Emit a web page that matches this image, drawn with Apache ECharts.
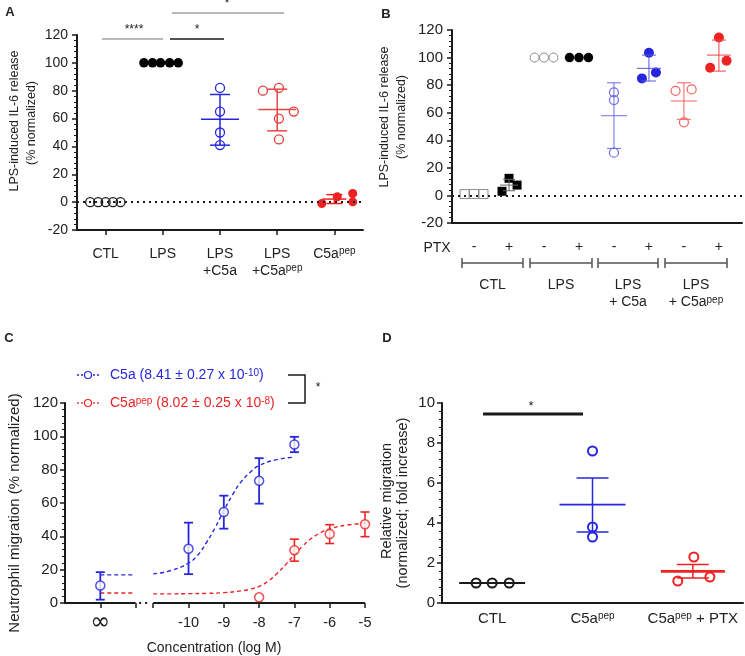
<!DOCTYPE html>
<html><head><meta charset="utf-8">
<script src="https://cdn.jsdelivr.net/npm/echarts@6/dist/echarts.min.js"></script>
<style>html,body{margin:0;padding:0;background:#fff}#c{width:745px;height:656px}</style>
</head><body><div id="c"></div>
<script>
// ================= DATA =================
// ---- Panel A : LPS-induced IL-6 release ----
const aCategories = ['CTL', 'LPS', 'LPS\n+C5a', 'LPS\n+C5a^pep', 'C5a^pep'];
const aCTL = [0, 0, 0, 0, 0];
const aLPS = [100, 100, 100, 100, 100];
const aLPS_C5a = [82, 65, 50, 41];
const aLPS_C5apep = [80, 82, 65, 60, 45];
const aC5apep = [-1, 3.8, 6.2, 0.2];
const aMean = [null, null, 59.6, 66.5, 2.2];
const aLow = [null, null, 40.9, 51.2, -1.0];
const aHigh = [null, null, 77.3, 81.1, 5.4];
const aJitCTL = [-0.27, -0.13, 0, 0.13, 0.26];
const aJitLPS = [-0.33, -0.18, -0.04, 0.12, 0.27];
const aJitLPS_C5a = [0, 0, 0, 0];
const aJitLPS_C5apep = [-0.25, 0.03, 0.29, 0.03, 0.03];
const aJitC5apep = [-0.22, 0.05, 0.32, 0.32];
const aSig = ['****', '*', '*'];

// ---- Panel B : with / without PTX ----
const bGroups = ['CTL', 'LPS', 'LPS\n+ C5a', 'LPS\n+ C5a^pep'];
const bPTX = ['-', '+', '-', '+', '-', '+', '-', '+'];
const bCTLminus = [1, 1, 1];
const bCTLplus = [3.0, 12.4, 7.5];
const bLPSminus = [100, 100, 100];
const bLPSplus = [100, 100, 100];
const bC5aMinus = [74.8, 69.2, 31];
const bC5aPlus = [84.9, 103.5, 89.2];
const bPepMinus = [75.9, 76.9, 53];
const bPepPlus = [92.6, 114.6, 97.7];
const bMean = [null, 7.5, null, null, 57.8, 92.2, 68.5, 101.8];
const bLow = [null, 3.4, null, null, 34.1, 83.0, 55.2, 90.2];
const bHigh = [null, 11.7, null, null, 81.7, 101.8, 81.7, 112.7];
const bJit3 = [-0.27, 0, 0.27];
const bJitCTLplus = [-0.2, 0, 0.23];
const bJitC5aMinus = [0, 0, 0];
const bJitC5aPlus = [-0.2, 0, 0.2];
const bJitPepMinus = [-0.24, 0.22, 0];
const bJitPepPlus = [-0.25, 0, 0.22];

// ---- Panel C : dose response (log M) ----
const cInf = -12.5; // axis position used for the "zero concentration" point
const cLogBlue = [cInf, -10, -9, -8, -7];
const cBlue = [10.5, 32.5, 54.6, 73.3, 95.1];
const cBlueLow = [2.0, 17.3, 44.6, 59.6, 90.5];
const cBlueHigh = [18.5, 48.2, 64.4, 86.9, 99.7];
const cLogRed = [-8, -7, -6, -5];
const cRed = [3.4, 31.7, 41.4, 47.2];
const cRedLow = [null, 25.1, 35.7, 39.8];
const cRedHigh = [null, 38.3, 47.0, 54.6];
const cFitLog = [-11, -10.5, -10, -9.75, -9.5, -9.25, -9, -8.75, -8.5, -8.25, -8, -7.5, -7];
const cBlueFit = [17.5, 19.5, 24, 28.5, 36, 45, 55.5, 65, 73, 78.5, 82.5, 86, 87.5];
const cRedLog = [-11, -10.5, -10, -9.5, -9, -8.5, -8.25, -8, -7.75, -7.5, -7.25, -7, -6.75, -6.5, -6.25, -6, -5.5, -5];
const cRedFit = [5.5, 5.5, 5.6, 5.8, 6.2, 7.3, 8.3, 10, 13, 17.5, 23, 29, 34.5, 39, 42.3, 44.5, 46.8, 47.7];
const cBlueBase = 16.9;
const cRedBase = 6.0;
const cLegend = ['C5a (8.41 ± 0.27 x 10^-10)', 'C5a^pep (8.02 ± 0.25 x 10^-8)'];
const cXTicks = [cInf, -10, -9, -8, -7, -6, -5];

// ---- Panel D : relative migration ----
const dCategories = ['CTL', 'C5a^pep', 'C5a^pep + PTX'];
const dCTL = [1, 1, 1];
const dC5apep = [7.6, 3.8, 3.3];
const dC5apepPTX = [1.1, 2.3, 1.3];
const dMean = [1.0, 4.92, 1.58];
const dLow = [null, 3.55, 1.25];
const dHigh = [null, 6.25, 1.92];
const dJitCTL = [-0.16, 0, 0.17];
const dJitC5apep = [0, 0, 0];
const dJitPTX = [-0.15, 0.01, 0.17];

// ================= STYLE =================
const FONT = '"Liberation Sans", Arial, sans-serif';
const INK = '#1a1a1a';
const BLUE = '#2626dc';
const RED = '#ee2222';
const LBLUE = '#6d6de4';
const LRED = '#f06262';
const GRAY = '#8a8a8a';

function rich(s) { return s.replace(/\^([\w\-]+)/g, '{s|$1}'); }
const supStyle = (c) => ({ fontSize: 10, verticalAlign: 'top', lineHeight: 10, color: c, fill: c, fontFamily: FONT });

function pts(ax, col, vals, jit, sym, size, fill, stroke, bw, z) {
  return {
    type: 'scatter', xAxisIndex: ax, yAxisIndex: ax, symbol: sym, symbolSize: size,
    z: z || 3, silent: true, animation: false,
    itemStyle: { color: fill, borderColor: stroke, borderWidth: bw, opacity: 1 },
    data: vals.map((v, i) => [col + jit[i], v])
  };
}
function errBars(ax, data, color, o) {
  return {
    type: 'custom', coordinateSystem: 'cartesian2d', xAxisIndex: ax, yAxisIndex: ax,
    z: o.z || 4, silent: true, animation: false, encode: { x: 0, y: 1 }, data: data,
    renderItem: function (params, api) {
      const x = api.value(0), m = api.value(1), lo = api.value(2), hi = api.value(3);
      const ch = [];
      const mk = (x1, y1, x2, y2, w) => ({ type: 'line', shape: { x1, y1, x2, y2 }, style: { stroke: color, lineWidth: w } });
      if (!isNaN(lo) && !isNaN(hi)) {
        const pl = api.coord([x, lo]), ph = api.coord([x, hi]);
        ch.push(mk(pl[0], pl[1], ph[0], ph[1], o.lw));
        ch.push(mk(pl[0] - o.cap, pl[1], pl[0] + o.cap, pl[1], o.lw));
        ch.push(mk(ph[0] - o.cap, ph[1], ph[0] + o.cap, ph[1], o.lw));
      }
      if (o.mean) {
        const pm = api.coord([x, m]);
        ch.push(mk(pm[0] - o.mean, pm[1], pm[0] + o.mean, pm[1], o.mlw || o.lw));
      }
      return { type: 'group', children: ch };
    }
  };
}
function summary(idx, mean, low, high) {
  return idx.map(i => [i, mean[i], low[i] == null ? NaN : low[i], high[i] == null ? NaN : high[i]]);
}
function yAx(gi, min, max, interval, fs, margin) {
  return {
    gridIndex: gi, type: 'value', min, max, interval,
    axisLine: { show: true, onZero: false, lineStyle: { color: INK, width: 2 } },
    axisTick: { show: true, length: 5, lineStyle: { color: INK, width: 1.5 } },
    minorTick: { show: true, splitNumber: 5, length: 3, lineStyle: { color: INK, width: 1 } },
    splitLine: { show: false }, minorSplitLine: { show: false },
    axisLabel: { fontSize: fs, color: '#222', fontFamily: FONT, margin }
  };
}
const zeroLine = {
  silent: true, symbol: 'none', animation: false, label: { show: false },
  lineStyle: { type: [2, 4], color: INK, width: 2 }, data: [{ yAxis: 0 }]
};

// ================= GRAPHIC HELPERS =================
function T(x, y, text, o) {
  o = o || {};
  const st = {
    text, fill: o.color || '#222',
    font: (o.weight || 'normal') + ' ' + (o.size || 14) + 'px ' + FONT,
    align: o.align || 'center', verticalAlign: 'middle',
    textAlign: o.align || 'center', textVerticalAlign: 'middle'
  };
  if (o.rich) st.rich = o.rich;
  return { type: 'text', x, y, rotation: o.rot || 0, z: 20, silent: true, style: st };
}
function L(x1, y1, x2, y2, c, w, dash) {
  const st = { stroke: c, lineWidth: w };
  if (dash) st.lineDash = dash;
  return { type: 'line', z: 20, silent: true, shape: { x1, y1, x2, y2 }, style: st };
}
const ROT = Math.PI / 2;

const graphics = [
  T(10, 12, 'A', { weight: 'bold', size: 13 }),
  T(386, 14, 'B', { weight: 'bold', size: 13 }),
  T(9, 338, 'C', { weight: 'bold', size: 13 }),
  T(387, 338, 'D', { weight: 'bold', size: 13 }),
  // A y name
  T(15, 121, 'LPS-induced IL-6 release', { rot: ROT, size: 12.5 }),
  T(32, 123, '(% normalized)', { rot: ROT, size: 12.5 }),
  // A significance
  L(102, 39, 163, 39, '#a0a0a0', 1.5), T(134, 30, aSig[0], { size: 12 }),
  L(170, 39, 224, 39, INK, 1.5), T(197, 30, aSig[1], { size: 12 }),
  L(172, 13, 284, 13, '#a0a0a0', 1.5), T(227, 4, aSig[2], { size: 12 }),
  // B y name
  T(385, 117, 'LPS-induced IL-6 release', { rot: ROT, size: 12.5 }),
  T(402, 117, '(% normalized)', { rot: ROT, size: 12.5 }),
  T(437, 248, 'PTX', { size: 14 }),
  // C names
  T(15, 513, 'Neutrophil migration (% normalized)', { rot: ROT, size: 15 }),
  T(214, 648, 'Concentration (log M)', { size: 14 }),
  // C legend
  L(77, 375, 99, 375, BLUE, 1.3, [2, 2]),
  { type: 'circle', z: 21, silent: true, shape: { cx: 88, cy: 375, r: 3.5 }, style: { stroke: BLUE, fill: '#fff', lineWidth: 1.2 } },
  T(110, 375, rich(cLegend[0]), { align: 'left', color: BLUE, size: 14, rich: { s: supStyle(BLUE) } }),
  L(77, 403, 99, 403, RED, 1.3, [2, 2]),
  { type: 'circle', z: 21, silent: true, shape: { cx: 88, cy: 403, r: 3.5 }, style: { stroke: RED, fill: '#fff', lineWidth: 1.2 } },
  T(110, 403, rich(cLegend[1]), { align: 'left', color: RED, size: 14, rich: { s: supStyle(RED) } }),
  { type: 'polyline', z: 20, silent: true, shape: { points: [[288, 375], [305, 375], [305, 403], [288, 403]] }, style: { stroke: INK, lineWidth: 1.5, fill: null } },
  T(318, 388, '*', { size: 12 }),
  // D names
  T(387, 501, 'Relative migration', { rot: ROT, size: 14.5 }),
  T(403, 503, '(normalized; fold increase)', { rot: ROT, size: 14.5 }),
  L(483, 414, 583, 414, INK, 3), T(531, 406, '*', { size: 13 })
];
// B group brackets and labels
const bBr = [[462, 523], [530, 592], [598, 658], [665, 727]];
bBr.forEach((b, i) => {
  graphics.push(L(b[0], 263, b[1], 263, '#555', 1.5), L(b[0], 258, b[0], 268, '#555', 1.5), L(b[1], 258, b[1], 268, '#555', 1.5));
  const lines = bGroups[i].split('\n');
  lines.forEach((ln, k) => graphics.push(T((b[0] + b[1]) / 2, 285 + 17 * k, rich(ln), { size: 14, rich: { s: supStyle('#222') } })));
});

// ================= OPTION =================
const series = [];
// ---- A ----
const sA = pts(0, 0, aCTL, aJitCTL, 'circle', 9, 'rgba(0,0,0,0)', INK, 1.3);
sA.markLine = zeroLine;
series.push(sA,
  pts(0, 1, aLPS, aJitLPS, 'circle', 9.5, '#000', '#000', 0),
  pts(0, 2, aLPS_C5a, aJitLPS_C5a, 'circle', 9, 'rgba(0,0,0,0)', BLUE, 1.3),
  pts(0, 3, aLPS_C5apep, aJitLPS_C5apep, 'circle', 9, 'rgba(0,0,0,0)', '#e83a3a', 1.3),
  pts(0, 4, aC5apep, aJitC5apep, 'circle', 9, RED, RED, 0),
  errBars(0, summary([2], aMean, aLow, aHigh), BLUE, { lw: 1.5, cap: 10, mean: 19 }),
  errBars(0, summary([3], aMean, aLow, aHigh), '#e84545', { lw: 1.5, cap: 10, mean: 19 }),
  errBars(0, summary([4], aMean, aLow, aHigh), RED, { lw: 1.5, cap: 8, mean: 12 })
);
// ---- B ----
const sB = pts(1, 0, bCTLminus, bJit3, 'rect', 9, '#fff', GRAY, 1);
sB.markLine = zeroLine;
series.push(sB,
  pts(1, 1, bCTLplus, bJitCTLplus, 'rect', 9, '#000', '#000', 0),
  pts(1, 2, bLPSminus, bJit3, 'circle', 9, '#fff', GRAY, 1),
  pts(1, 3, bLPSplus, bJit3, 'circle', 9.5, '#000', '#000', 0),
  pts(1, 4, bC5aMinus, bJitC5aMinus, 'circle', 9, 'rgba(0,0,0,0)', LBLUE, 1.2),
  pts(1, 5, bC5aPlus, bJitC5aPlus, 'circle', 10, BLUE, BLUE, 0),
  pts(1, 6, bPepMinus, bJitPepMinus, 'circle', 9, 'rgba(0,0,0,0)', LRED, 1.2),
  pts(1, 7, bPepPlus, bJitPepPlus, 'circle', 10, RED, RED, 0),
  errBars(1, summary([1], bMean, bLow, bHigh), '#666', { lw: 1, cap: 6, mean: 9 }),
  errBars(1, summary([4], bMean, bLow, bHigh), LBLUE, { lw: 1, cap: 7, mean: 13 }),
  errBars(1, summary([5], bMean, bLow, bHigh), '#5555dd', { lw: 1, cap: 7, mean: 12 }),
  errBars(1, summary([6], bMean, bLow, bHigh), LRED, { lw: 1, cap: 7, mean: 13 }),
  errBars(1, summary([7], bMean, bLow, bHigh), '#ee4444', { lw: 1, cap: 7, mean: 12 })
);
// ---- C ----
const lineS = (data, color, dash, w, smooth) => ({
  type: 'line', xAxisIndex: 2, yAxisIndex: 2, data, symbol: 'none', silent: true, animation: false, clip: false,
  smooth: smooth ? 0.5 : false, lineStyle: { color, width: w, type: dash }, z: 2
});
series.push(
  // broken x-axis line
  lineS([[-13.5, 0], [-11.5, 0]], INK, 'solid', 2),
  lineS([[-11, 0], [-5, 0]], INK, 'solid', 2),
  lineS([[-11.4, 0], [-11.1, 0]], INK, [2, 4], 2),
  // fitted curves
  lineS([[cInf, cBlueBase], [-11.55, cBlueBase]], BLUE, [4, 3], 1.4),
  lineS([[cInf, cRedBase], [-11.55, cRedBase]], RED, [4, 3], 1.4),
  lineS(cBlueFit.map((v, i) => [cFitLog[i], v]), BLUE, [4, 3], 1.4, true),
  lineS(cRedFit.map((v, i) => [cRedLog[i], v]), RED, [4, 3], 1.4, true),
  errBars(2, cLogBlue.map((x, i) => [x, cBlue[i], cBlueLow[i], cBlueHigh[i]]), BLUE, { lw: 1.8, cap: 4.5, mean: 0 }),
  errBars(2, cLogRed.map((x, i) => [x, cRed[i], cRedLow[i] == null ? NaN : cRedLow[i], cRedHigh[i] == null ? NaN : cRedHigh[i]]), RED, { lw: 1.6, cap: 4.5, mean: 0 }),
  { type: 'scatter', xAxisIndex: 2, yAxisIndex: 2, symbol: 'circle', symbolSize: 9, z: 6, silent: true, animation: false,
    itemStyle: { color: '#fff', borderColor: BLUE, borderWidth: 1.5 }, data: cLogBlue.map((x, i) => [x, cBlue[i]]) },
  { type: 'scatter', xAxisIndex: 2, yAxisIndex: 2, symbol: 'circle', symbolSize: 9, z: 6, silent: true, animation: false,
    itemStyle: { color: '#fff', borderColor: RED, borderWidth: 1.5 }, data: cLogRed.map((x, i) => [x, cRed[i]]) }
);
// ---- D ----
series.push(
  pts(3, 0, dCTL, dJitCTL, 'circle', 9, 'rgba(0,0,0,0)', INK, 2),
  pts(3, 1, dC5apep, dJitC5apep, 'circle', 9, 'rgba(0,0,0,0)', BLUE, 2),
  pts(3, 2, dC5apepPTX, dJitPTX, 'circle', 9, 'rgba(0,0,0,0)', RED, 2),
  errBars(3, summary([0], dMean, dLow, dHigh), INK, { lw: 2, cap: 0, mean: 33 }),
  errBars(3, summary([1], dMean, dLow, dHigh), BLUE, { lw: 1.5, cap: 16, mean: 33, mlw: 1.8 }),
  errBars(3, summary([2], dMean, dLow, dHigh), RED, { lw: 1.5, cap: 16, mean: 32, mlw: 2.6 })
);

const xBase = (gi, min, max) => ({
  gridIndex: gi, type: 'value', min, max, splitLine: { show: false },
  axisLine: { show: true, onZero: false, lineStyle: { color: INK, width: 2 } }
});

const option = {
  backgroundColor: '#fff',
  animation: false,
  textStyle: { fontFamily: FONT },
  grid: [
    { left: 77, top: 35, width: 286, height: 195 },
    { left: 452, top: 30, width: 290, height: 193 },
    { left: 65, top: 403, width: 300, height: 200 },
    { left: 442, top: 403, width: 301, height: 200 }
  ],
  xAxis: [
    Object.assign(xBase(0, -0.5, 4.5), {
      axisTick: { show: true, customValues: [0, 1, 2, 3, 4], length: 5, lineStyle: { color: INK, width: 1.5 } },
      axisLabel: { customValues: [0, 1, 2, 3, 4], formatter: v => rich(aCategories[Math.round(v)]),
        fontSize: 14, lineHeight: 17, margin: 16, color: '#222', fontFamily: FONT, rich: { s: supStyle('#222') } }
    }),
    Object.assign(xBase(1, -0.63, 7.66), {
      axisTick: { show: false },
      axisLabel: { customValues: [0, 1, 2, 3, 4, 5, 6, 7], formatter: v => bPTX[Math.round(v)],
        fontSize: 14, margin: 17, color: '#222', fontFamily: FONT }
    }),
    Object.assign(xBase(2, -13.5, -5), {
      axisLine: { show: false, onZero: false },
      axisTick: { show: true, customValues: [cInf, -11.5, -11, -10, -9, -8, -7, -6, -5], length: 5, lineStyle: { color: INK, width: 1.5 } },
      axisLabel: { customValues: cXTicks, formatter: v => (Math.abs(v - cInf) < 1e-6 ? '{inf|∞}' : String(v)),
        fontSize: 14.5, margin: 12, color: '#222', fontFamily: FONT,
        rich: { inf: { fontSize: 24, lineHeight: 16, fontFamily: '"DejaVu Sans", sans-serif', color: '#222' } } }
    }),
    Object.assign(xBase(3, -0.5, 2.5), {
      axisTick: { show: false },
      axisLabel: { customValues: [0, 1, 2], formatter: v => rich(dCategories[Math.round(v)]),
        fontSize: 15, margin: 8, color: '#222', fontFamily: FONT, rich: { s: supStyle('#222') } }
    })
  ],
  yAxis: [
    yAx(0, -20, 120, 20, 14, 9),
    yAx(1, -20, 120, 20, 15, 9),
    yAx(2, 0, 120, 20, 15, 7),
    yAx(3, 0, 10, 2, 15, 7)
  ],
  series: series,
  graphic: graphics
};

const chart = echarts.init(document.getElementById('c'), null, { renderer: 'canvas' });
chart.setOption(option);
</script>
</body></html>
